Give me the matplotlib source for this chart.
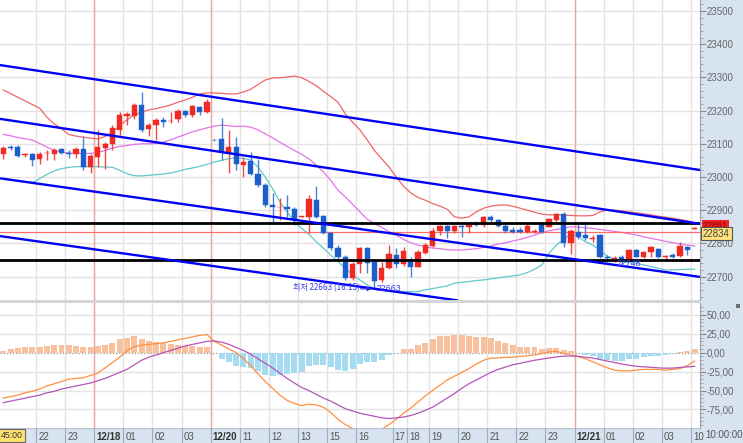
import numpy as np
import matplotlib
matplotlib.use('Agg')
import matplotlib.pyplot as plt
from matplotlib.patches import Rectangle

plt.rcParams['font.family'] = ['Liberation Sans', 'Noto Sans CJK KR', 'DejaVu Sans']

# 15-minute candles (open, high, low, close)
opens = [23068, 23091, 23091, 23066, 23069, 23053, 23071, 23068, 23083, 23073, 23068, 23083, 23029, 23059, 23088, 23098,
         23141, 23185, 23185, 23217, 23145, 23156, 23172, 23168, 23174, 23200, 23187, 23212, 23197, 23112, 23115, 23071,
         23091, 23036, 23049, 23009, 22976, 22916, 22909, 22911, 22903, 22880, 22879, 22931, 22883, 22830, 22785, 22760,
         22695, 22738, 22785, 22745, 22690, 22725, 22765, 22738, 22745, 22730, 22772, 22792, 22838, 22853, 22838, 22853,
         22849, 22858, 22856, 22880, 22869, 22851, 22840, 22840, 22835, 22834, 22858, 22850, 22871, 22889, 22800, 22835,
         22825, 22814, 22825, 22760, 22754, 22760, 22750, 22780, 22760, 22775, 22783, 22758, 22764, 22762, 22788, 22844]
highs = [23093, 23096, 23096, 23071, 23073, 23076, 23081, 23086, 23088, 23081, 23091, 23124, 23069, 23142, 23106, 23157,
         23197, 23197, 23224, 23257, 23162, 23177, 23182, 23197, 23204, 23202, 23217, 23214, 23234, 23114, 23177, 23142,
         23120, 23061, 23076, 23053, 22981, 22951, 22936, 22946, 22909, 22882, 22946, 22973, 22886, 22835, 22795, 22765,
         22745, 22790, 22790, 22750, 22745, 22795, 22785, 22790, 22760, 22780, 22800, 22846, 22856, 22856, 22856, 22856,
         22865, 22868, 22883, 22886, 22873, 22861, 22849, 22850, 22861, 22843, 22862, 22876, 22893, 22896, 22842, 22861,
         22861, 22825, 22828, 22765, 22762, 22765, 22782, 22782, 22778, 22792, 22785, 22765, 22770, 22805, 22792, 22848]
lows = [23055, 23081, 23059, 23061, 23033, 23039, 23051, 23051, 23068, 23056, 23056, 23021, 23013, 23031, 23023, 23081,
        23126, 23157, 23174, 23136, 23124, 23111, 23152, 23162, 23166, 23182, 23182, 23187, 23194, 23108, 23051, 23011,
        23021, 23001, 23006, 22971, 22911, 22865, 22871, 22880, 22856, 22878, 22832, 22876, 22828, 22780, 22750, 22690,
        22690, 22710, 22710, 22663, 22685, 22722, 22725, 22732, 22700, 22728, 22768, 22790, 22825, 22815, 22832, 22818,
        22832, 22852, 22850, 22865, 22849, 22832, 22830, 22830, 22832, 22832, 22830, 22849, 22865, 22788, 22768, 22812,
        22810, 22805, 22755, 22745, 22745, 22735, 22748, 22758, 22755, 22760, 22755, 22748, 22757, 22760, 22765, 22843]
closes = [23086, 23086, 23064, 23069, 23051, 23070, 23073, 23081, 23073, 23068, 23083, 23029, 23064, 23089, 23099, 23147,
          23187, 23189, 23217, 23142, 23157, 23172, 23167, 23170, 23200, 23187, 23214, 23197, 23227, 23110, 23074, 23089,
          23038, 23046, 23009, 22976, 22916, 22909, 22911, 22903, 22873, 22881, 22933, 22879, 22830, 22785, 22760, 22695,
          22738, 22785, 22740, 22688, 22725, 22768, 22738, 22778, 22730, 22775, 22795, 22836, 22853, 22838, 22853, 22849,
          22858, 22856, 22879, 22869, 22853, 22838, 22835, 22835, 22853, 22836, 22835, 22873, 22889, 22802, 22838, 22820,
          22815, 22816, 22760, 22755, 22756, 22750, 22780, 22760, 22775, 22788, 22760, 22762, 22760, 22792, 22780, 22847]

# bands: upper (red), middle (magenta), lower (cyan)
band_up = [23262, 23251, 23240, 23229, 23218, 23207, 23180, 23160, 23145, 23128, 23123, 23120, 23117, 23115, 23122, 23135,
           23155, 23172, 23187, 23195, 23202, 23206, 23211, 23217, 23225, 23232, 23240, 23250, 23253, 23253, 23252, 23250,
           23250, 23256, 23264, 23278, 23292, 23298, 23299, 23301, 23304, 23299, 23288, 23275, 23258, 23242, 23225, 23190,
           23165, 23142, 23112, 23080, 23055, 23030, 23000, 22972, 22952, 22938, 22930, 22920, 22912, 22903, 22880, 22876,
           22880, 22895, 22906, 22912, 22915, 22916, 22912, 22906, 22900, 22894, 22888, 22886, 22886, 22886, 22884, 22883,
           22883, 22884, 22895, 22901, 22900, 22898, 22895, 22892, 22889, 22886, 22882, 22879, 22876, 22872, 22868, 22862]
band_mid = [23128, 23124, 23119, 23115, 23111, 23101, 23090, 23080, 23075, 23072, 23071, 23071, 23071, 23074, 23080, 23087,
            23092, 23095, 23098, 23100, 23100, 23101, 23105, 23112, 23120, 23128, 23136, 23142, 23148, 23153, 23156, 23154,
            23152, 23153, 23150, 23142, 23130, 23118, 23105, 23092, 23080, 23068, 23055, 23036, 23015, 22990, 22960, 22940,
            22918, 22895, 22873, 22860, 22848, 22835, 22825, 22812, 22802, 22795, 22790, 22786, 22784, 22781, 22780, 22780,
            22782, 22784, 22788, 22792, 22798, 22802, 22807, 22812, 22818, 22825, 22832, 22838, 22842, 22846, 22850, 22849,
            22847, 22845, 22842, 22839, 22836, 22833, 22829, 22825, 22820, 22815, 22811, 22806, 22802, 22798, 22795, 22792]
band_low = [22995, 22992, 22989, 22986, 22983, 22995, 23008, 23018, 23025, 23029, 23031, 23031, 23031, 23031, 23030, 23029,
            23020, 23010, 23004, 23003, 23005, 23007, 23009, 23012, 23017, 23023, 23027, 23032, 23038, 23045, 23050, 23055,
            23058, 23056, 23051, 23030, 23000, 22965, 22925, 22895, 22865, 22845, 22828, 22805, 22785, 22765, 22745, 22725,
            22705, 22690, 22675, 22662, 22658, 22656, 22655, 22655, 22655, 22655, 22660, 22664, 22668, 22672, 22680, 22683,
            22685, 22688, 22690, 22693, 22696, 22699, 22702, 22705, 22712, 22722, 22735, 22770, 22795, 22812, 22828, 22820,
            22805, 22795, 22780, 22762, 22752, 22746, 22742, 22740, 22735, 22730, 22725, 22720, 22720, 22721, 22722, 22722]

# MACD panel
macd = [-60, -58, -56, -53, -51, -48, -44, -41, -38, -35, -34, -33, -30, -27, -20, -13,
        -6, 3, 8, 10, 11, 12, 13, 15, 17, 19, 21, 23, 24, 15, 10, 5,
        0, -8, -17, -28, -38, -47, -56, -63, -67, -70, -68, -69, -72, -79, -88, -95,
        -100, -103, -104, -104, -101, -95, -88, -80, -73, -65, -57, -50, -43, -36, -31, -26,
        -21, -15, -10, -7, -7, -6, -6, -5, -4, -3, -1, 1, 2, -1, -3, -5,
        -8, -12, -16, -20, -23, -24, -24, -23, -22, -22, -22, -23, -22, -21, -17, -11]
signal = [-66, -64, -62, -60, -58, -56, -53, -51, -48, -46, -44, -42, -40, -37, -34, -30,
          -26, -22, -16, -10, -6, -3, 0, 3, 6, 9, 11, 13, 15, 15.5, 14, 11,
          7, 3, -2, -8, -14, -20, -27, -34, -40, -46, -50, -55, -60, -64, -69, -74,
          -77, -80, -82, -84, -86, -87, -86, -85, -83, -80, -76, -72, -66, -60, -54, -47,
          -41, -36, -31, -26, -22, -19, -16, -14, -12, -10, -8.5, -7, -5.5, -4.5, -4.4, -4.8,
          -6, -7, -9, -11, -13, -15, -16.5, -18, -18.7, -19.3, -20, -20.5, -20.3, -19.5, -18.7, -18]
hist = [2.7, 5.3, 6.6, 7.1, 7.1, 7.9, 8.8, 10.2, 10.2, 10.2, 9.2, 7.1, 7.1, 8.8, 10.2, 13.2,
        18.1, 19.8, 22.5, 18.1, 15.5, 13.7, 13.2, 11.1, 10.2, 9.2, 8.8, 7.9, 7.9, 0, -8.3, -11.9,
        -17.2, -18.5, -20.6, -24.2, -29.5, -30.8, -29.5, -28.2, -27.3, -25.1, -17.6, -16.3, -16.3, -18.5, -22.9, -23.8,
        -21.6, -15.4, -12.7, -12.7, -9.7, -3, 0, 4.8, 4.8, 10.2, 13.2, 18.1, 22, 22.5, 23.4, 23.4,
        22.5, 21.1, 20.3, 19, 15.9, 13.2, 10.2, 7.9, 7.9, 7.1, 4.8, 5.7, 6.6, 3.1, 1.8, 0,
        -3, -4.4, -8.8, -9.7, -10.6, -10.6, -8.8, -8.4, -6.2, -4, -4, -3, -2.2, 1.3, 2.2, 4.8]

# trend channel lines (start index, start price, end index, end price)
channels = [(-0.45, 23337, 95.74, 23021),
            (-0.45, 23175, 95.74, 22859),
            (-0.45, 22996, 95.74, 22699),
            (-0.45, 22822, 62.5, 22628)]
hlines_black = [22860, 22750]
hline_red = 22834

# hour boundaries and labels
hour_pos = [4.5, 8.5, 12.5, 16.5, 20.5, 24.5, 28.5, 32.5, 36.5, 40.5, 44.5, 48.5,
            53.5, 55.5, 58.5, 62.5, 66.5, 70.5, 74.5, 78.5, 82.5, 86.5, 90.5, 94.5]
hour_lab = ['22', '23', '12/18', '01', '02', '03', '12/20', '11', '12', '13', '15', '16',
            '17', '18', '19', '20', '21', '22', '23', '12/21', '01', '02', '03', '10']
price_ticks = [22700, 22800, 22900, 23000, 23100, 23200, 23300, 23400, 23500]
macd_ticks = [50, 25, 0, -25, -50, -75]

W, H = 743, 443
band_col = '#d7e3f0'
grid_col = '#e3e3e3'
date_col = '#f2a4a4'


def fa(x0, y0, x1, y1):
    return [x0 / W, 1 - y1 / H, (x1 - x0) / W, (y1 - y0) / H]


fig = plt.figure(figsize=(W / 100, H / 100), dpi=100)
fig.patches.append(Rectangle((700 / W, 0), 43 / W, 1, transform=fig.transFigure, fc=band_col, ec='none', zorder=-5))
fig.patches.append(Rectangle((0, 1 - 303 / H), 700 / W, 3 / H, transform=fig.transFigure, fc='#d4d4d4', ec='none', zorder=-5))

ax1 = fig.add_axes(fa(0, 0, 700, 300))
ax2 = fig.add_axes(fa(0, 303, 700, 428))
ax3 = fig.add_axes(fa(0, 428, 700, 443))
ax3.set_facecolor(band_col)

idx = np.arange(len(opens))
xlim = (-0.45, 95.74)

for ax in (ax1, ax2):
    ax.set_xlim(xlim)
    ax.set_xticks([])
    for s in ('top', 'left', 'bottom'):
        ax.spines[s].set_visible(False)
    ax.spines['right'].set_color('#a0a0a0')
    ax.yaxis.tick_right()
    ax.tick_params(axis='y', which='major', direction='out', length=4, width=0.8,
                   color='#8a8a8a', labelcolor='#666666', labelsize=7, pad=1)
    ax.tick_params(axis='y', which='minor', direction='out', length=2, width=0.6, color='#9a9a9a')
    for b in hour_pos:
        ax.axvline(b, color=grid_col, lw=1, zorder=0)
    for d in (12.5, 28.5, 78.5):
        ax.axvline(d, color=date_col, lw=1, zorder=0.5)

# price panel
ax1.set_ylim(22629.5, 23533)
ax1.set_yticks(price_ticks)
ax1.set_yticklabels([str(t) for t in price_ticks])
ax1.set_yticks(np.arange(22640, 23540, 20), minor=True)
for t in price_ticks:
    ax1.axhline(t, color=grid_col, lw=1, zorder=0)

ax1.plot(idx, band_up, color='#f06666', lw=0.9, zorder=2)
ax1.plot(idx, band_mid, color='#e274e6', lw=0.9, zorder=2)
ax1.plot(idx, band_low, color='#62c8cc', lw=0.9, zorder=2)

o = np.array(opens)
c = np.array(closes)
up = c >= o
cols = np.where(up, '#ee2a22', '#1c5fcc')
wick_cols = np.where(up, '#ee4a44', '#4a80d8')
ax1.vlines(idx, lows, highs, colors=wick_cols, lw=1, zorder=3)
body = np.maximum(np.abs(c - o), 2.0)
ax1.bar(idx, body, bottom=np.minimum(o, c), width=0.72, color=cols, edgecolor=cols, lw=0.3, zorder=4)

ax1.axhline(hline_red, color='#ff6a6a', lw=0.9, zorder=2.5)
for hl in hlines_black:
    ax1.axhline(hl, color='black', lw=2, zorder=5)
for x0, y0, x1, y1 in channels:
    ax1.plot([x0, x1], [y0, y1], color='#0000f4', lw=1.7, zorder=5, solid_capstyle='butt')

ax1.text(39.85, 22667, '최저 22663 (16:15)', family=['Noto Sans CJK KR', 'DejaVu Sans'],
         fontsize=5.8, color='#3a3af0', va='center', ha='left', zorder=6)
ax1.annotate('', xy=(51.0, 22663), xytext=(48.7, 22663),
             arrowprops=dict(arrowstyle='-|>', color='#2a2ae8', lw=0.8, mutation_scale=6), zorder=6)
ax1.text(51.3, 22663, '22663', fontsize=6.3, color='#3a3af0', va='center', ha='left', zorder=6)
ax1.text(84.3, 22738, '22748', fontsize=6.3, color='#3a3af0', va='center', ha='left', zorder=6)

# MACD panel
ax2.set_ylim(-99.5, 65.7)
ax2.set_yticks(macd_ticks)
ax2.set_yticklabels(['{:.2f}'.format(t).replace('.', ',') for t in macd_ticks])
ax2.set_yticks(np.arange(-95, 65, 5), minor=True)
for t in macd_ticks:
    if t == 0:
        ax2.axhline(0, color='#9a9a9a', lw=0.9, ls=(0, (1, 1.5)), zorder=0.6)
    else:
        ax2.axhline(t, color=grid_col, lw=1, zorder=0)
hv = np.array(hist)
hcols = np.where(hv >= 0, '#f8c09c', '#a6dcf2')
ax2.bar(idx, hv, width=0.82, color=hcols, zorder=2)
ax2.plot(idx, macd, color='#ff9040', lw=0.9, zorder=3)
ax2.plot(idx, signal, color='#b455b8', lw=0.9, zorder=3)

# time axis band
ax3.set_xlim(xlim)
ax3.set_ylim(0, 1)
ax3.set_xticks([])
ax3.set_yticks([])
for s in ax3.spines.values():
    s.set_visible(False)
ax3.axhline(1, color='#b8c4d0', lw=1)
for b, lab in zip(hour_pos, hour_lab):
    ax3.axvline(b, color='#9eabb8', lw=0.8)
    bold = '/' in lab
    ax3.text(b + 0.3, 0.42, lab, fontsize=7, color='#333333' if bold else '#555555',
             weight='bold' if bold else 'normal', va='center', ha='left')

fig.text(1 / W, 1 - 435.5 / H, '45:00', fontsize=6.3, color='#333333', va='center', ha='left',
         bbox=dict(boxstyle='square,pad=0.2', fc='#ffe26e', ec='#666666', lw=0.8))
fig.text(705 / W, 1 - 435.5 / H, '10:00:00', fontsize=7, color='#555555', va='center', ha='left')
fig.text(703 / W, 1 - 225.5 / H, '22861', fontsize=6.5, color='#880000', va='center', ha='left',
         bbox=dict(boxstyle='square,pad=0.15', fc='#ee2222', ec='none'))
fig.text(703 / W, 1 - 233.5 / H, '22834', fontsize=7, color='#444444', va='center', ha='left',
         bbox=dict(boxstyle='square,pad=0.2', fc='#ffe27a', ec='#555555', lw=0.8))
fig.patches.append(Rectangle((736 / W, 1 - 308 / H), 4 / W, 4 / H, transform=fig.transFigure,
                             fc='#707070', ec='none', zorder=5))

plt.savefig('out.png', dpi=100)
plt.close(fig)
